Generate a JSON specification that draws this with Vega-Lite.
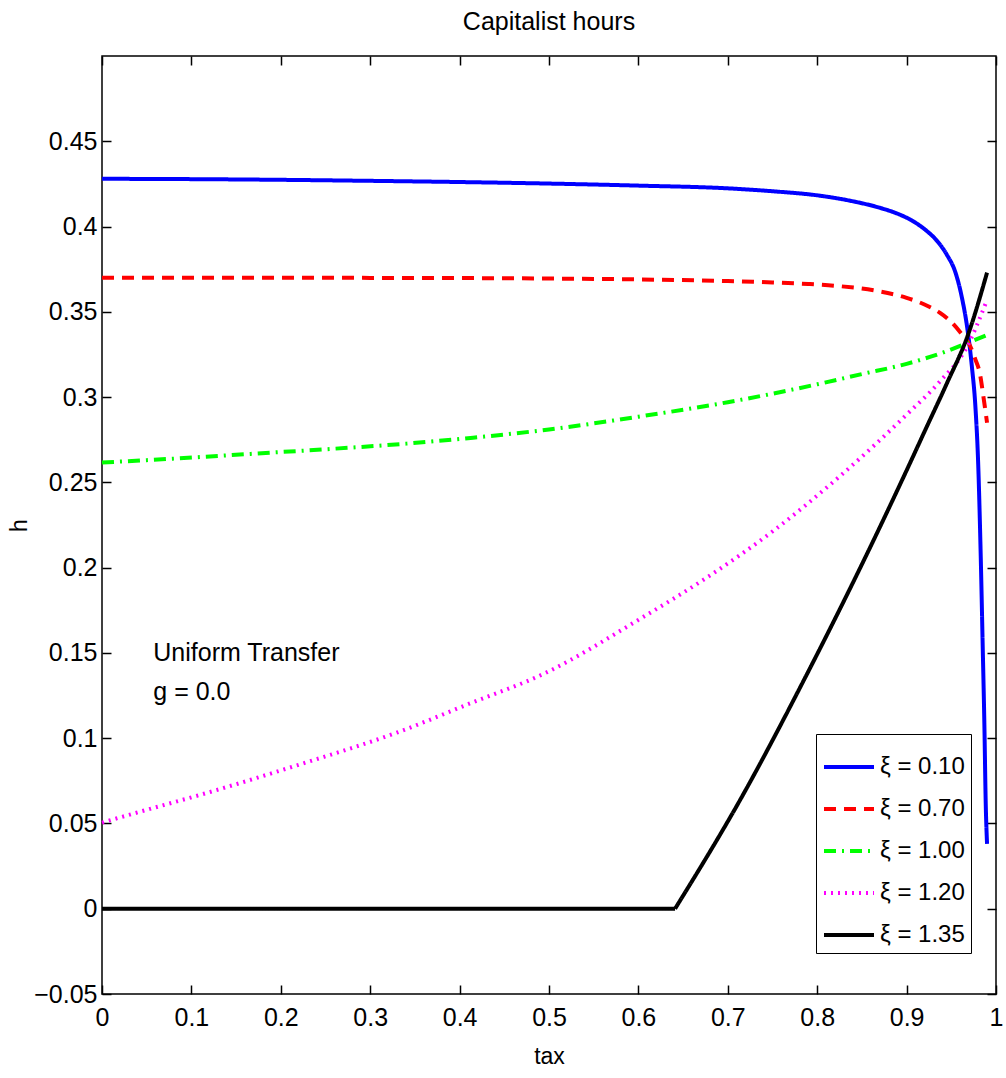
{
  "$schema": "https://vega.github.io/schema/vega-lite/v6.json",
  "width": 894,
  "height": 938,
  "autosize": "none",
  "padding": {"left": 102, "top": 56, "right": 10, "bottom": 84},
  "background": "white",
  "title": {"text": "Capitalist hours", "font": "Liberation Sans", "fontSize": 25, "fontWeight": "normal", "color": "black", "anchor": "middle", "baseline": "alphabetic", "offset": 0},
  "config": {
    "font": "Liberation Sans",
    "view": {"stroke": "black", "strokeWidth": 1.5},
    "axis": {
      "domain": false,
      "grid": false,
      "ticks": true,
      "offset": -9,
      "tickSize": 9,
      "tickColor": "#000000",
      "tickOpacity": 1,
      "tickWidth": 1.5,
      "zindex": 1,
      "labelFont": "Liberation Sans",
      "labelFontSize": 25,
      "labelColor": "black",
      "titleFont": "Liberation Sans",
      "titleFontSize": 23,
      "titleFontWeight": "normal",
      "titleColor": "black"
    }
  },
  "datasets": {
    "curves": [
      {"series": "ξ = 0.10", "part": "a", "tax": 0, "h": 0.428},
      {"series": "ξ = 0.10", "part": "a", "tax": 0.1, "h": 0.4278},
      {"series": "ξ = 0.10", "part": "a", "tax": 0.2, "h": 0.4274},
      {"series": "ξ = 0.10", "part": "a", "tax": 0.3, "h": 0.4268},
      {"series": "ξ = 0.10", "part": "a", "tax": 0.4, "h": 0.4261},
      {"series": "ξ = 0.10", "part": "a", "tax": 0.5, "h": 0.4252},
      {"series": "ξ = 0.10", "part": "a", "tax": 0.6, "h": 0.424},
      {"series": "ξ = 0.10", "part": "a", "tax": 0.7, "h": 0.4224},
      {"series": "ξ = 0.10", "part": "a", "tax": 0.75, "h": 0.4207},
      {"series": "ξ = 0.10", "part": "a", "tax": 0.8, "h": 0.4183},
      {"series": "ξ = 0.10", "part": "a", "tax": 0.84, "h": 0.4148},
      {"series": "ξ = 0.10", "part": "a", "tax": 0.87, "h": 0.411},
      {"series": "ξ = 0.10", "part": "a", "tax": 0.89, "h": 0.4075},
      {"series": "ξ = 0.10", "part": "a", "tax": 0.905, "h": 0.4038},
      {"series": "ξ = 0.10", "part": "a", "tax": 0.92, "h": 0.3985},
      {"series": "ξ = 0.10", "part": "a", "tax": 0.935, "h": 0.391},
      {"series": "ξ = 0.10", "part": "a", "tax": 0.945, "h": 0.3835},
      {"series": "ξ = 0.10", "part": "a", "tax": 0.955, "h": 0.3725},
      {"series": "ξ = 0.10", "part": "a", "tax": 0.962, "h": 0.358},
      {"series": "ξ = 0.10", "part": "a", "tax": 0.968, "h": 0.34},
      {"series": "ξ = 0.10", "part": "a", "tax": 0.973, "h": 0.318},
      {"series": "ξ = 0.10", "part": "a", "tax": 0.977, "h": 0.294},
      {"series": "ξ = 0.10", "part": "a", "tax": 0.98, "h": 0.262},
      {"series": "ξ = 0.10", "part": "a", "tax": 0.983, "h": 0.205},
      {"series": "ξ = 0.10", "part": "a", "tax": 0.985, "h": 0.157},
      {"series": "ξ = 0.10", "part": "a", "tax": 0.987, "h": 0.108},
      {"series": "ξ = 0.10", "part": "a", "tax": 0.9885, "h": 0.062},
      {"series": "ξ = 0.10", "part": "a", "tax": 0.99, "h": 0.038},

      {"series": "ξ = 0.70", "part": "a", "tax": 0, "h": 0.37},
      {"series": "ξ = 0.70", "part": "a", "tax": 0.1, "h": 0.37},
      {"series": "ξ = 0.70", "part": "a", "tax": 0.2, "h": 0.37},
      {"series": "ξ = 0.70", "part": "a", "tax": 0.3, "h": 0.3699},
      {"series": "ξ = 0.70", "part": "a", "tax": 0.4, "h": 0.3698},
      {"series": "ξ = 0.70", "part": "a", "tax": 0.5, "h": 0.3695},
      {"series": "ξ = 0.70", "part": "a", "tax": 0.6, "h": 0.369},
      {"series": "ξ = 0.70", "part": "a", "tax": 0.7, "h": 0.368},
      {"series": "ξ = 0.70", "part": "a", "tax": 0.75, "h": 0.3672},
      {"series": "ξ = 0.70", "part": "a", "tax": 0.79, "h": 0.3663},
      {"series": "ξ = 0.70", "part": "a", "tax": 0.826, "h": 0.365},
      {"series": "ξ = 0.70", "part": "a", "tax": 0.863, "h": 0.3626},
      {"series": "ξ = 0.70", "part": "a", "tax": 0.9, "h": 0.3582},
      {"series": "ξ = 0.70", "part": "a", "tax": 0.92, "h": 0.3543},
      {"series": "ξ = 0.70", "part": "a", "tax": 0.937, "h": 0.3495},
      {"series": "ξ = 0.70", "part": "a", "tax": 0.95, "h": 0.344},
      {"series": "ξ = 0.70", "part": "a", "tax": 0.96, "h": 0.338},
      {"series": "ξ = 0.70", "part": "a", "tax": 0.971, "h": 0.33},
      {"series": "ξ = 0.70", "part": "a", "tax": 0.977, "h": 0.322},
      {"series": "ξ = 0.70", "part": "a", "tax": 0.982, "h": 0.3137},
      {"series": "ξ = 0.70", "part": "a", "tax": 0.986, "h": 0.3},
      {"series": "ξ = 0.70", "part": "a", "tax": 0.99, "h": 0.285},

      {"series": "ξ = 1.00", "part": "a", "tax": 0, "h": 0.2616},
      {"series": "ξ = 1.00", "part": "a", "tax": 0.083, "h": 0.264},
      {"series": "ξ = 1.00", "part": "a", "tax": 0.166, "h": 0.2667},
      {"series": "ξ = 1.00", "part": "a", "tax": 0.25, "h": 0.2694},
      {"series": "ξ = 1.00", "part": "a", "tax": 0.333, "h": 0.2724},
      {"series": "ξ = 1.00", "part": "a", "tax": 0.415, "h": 0.2762},
      {"series": "ξ = 1.00", "part": "a", "tax": 0.5, "h": 0.281},
      {"series": "ξ = 1.00", "part": "a", "tax": 0.6, "h": 0.2885},
      {"series": "ξ = 1.00", "part": "a", "tax": 0.7, "h": 0.297},
      {"series": "ξ = 1.00", "part": "a", "tax": 0.75, "h": 0.302},
      {"series": "ξ = 1.00", "part": "a", "tax": 0.8, "h": 0.3075},
      {"series": "ξ = 1.00", "part": "a", "tax": 0.85, "h": 0.3135},
      {"series": "ξ = 1.00", "part": "a", "tax": 0.9, "h": 0.3195},
      {"series": "ξ = 1.00", "part": "a", "tax": 0.94, "h": 0.326},
      {"series": "ξ = 1.00", "part": "a", "tax": 0.967, "h": 0.3315},
      {"series": "ξ = 1.00", "part": "a", "tax": 0.99, "h": 0.3364},

      {"series": "ξ = 1.20", "part": "a", "tax": 0, "h": 0.0505},
      {"series": "ξ = 1.20", "part": "a", "tax": 0.05, "h": 0.058},
      {"series": "ξ = 1.20", "part": "a", "tax": 0.11, "h": 0.0668},
      {"series": "ξ = 1.20", "part": "a", "tax": 0.22, "h": 0.0844},
      {"series": "ξ = 1.20", "part": "a", "tax": 0.333, "h": 0.1039},
      {"series": "ξ = 1.20", "part": "a", "tax": 0.408, "h": 0.1196},
      {"series": "ξ = 1.20", "part": "a", "tax": 0.497, "h": 0.1385},
      {"series": "ξ = 1.20", "part": "a", "tax": 0.602, "h": 0.17},
      {"series": "ξ = 1.20", "part": "a", "tax": 0.676, "h": 0.194},
      {"series": "ξ = 1.20", "part": "a", "tax": 0.751, "h": 0.2216},
      {"series": "ξ = 1.20", "part": "a", "tax": 0.826, "h": 0.2539},
      {"series": "ξ = 1.20", "part": "a", "tax": 0.9, "h": 0.2897},
      {"series": "ξ = 1.20", "part": "a", "tax": 0.937, "h": 0.309},
      {"series": "ξ = 1.20", "part": "a", "tax": 0.967, "h": 0.329},
      {"series": "ξ = 1.20", "part": "a", "tax": 0.99, "h": 0.357},

      {"series": "ξ = 1.35", "part": "a", "tax": 0, "h": 0},
      {"series": "ξ = 1.35", "part": "a", "tax": 0.2, "h": 0},
      {"series": "ξ = 1.35", "part": "a", "tax": 0.4, "h": 0},
      {"series": "ξ = 1.35", "part": "a", "tax": 0.641, "h": 0},
      {"series": "ξ = 1.35", "part": "b", "tax": 0.641, "h": 0},
      {"series": "ξ = 1.35", "part": "b", "tax": 0.714, "h": 0.064},
      {"series": "ξ = 1.35", "part": "b", "tax": 0.788, "h": 0.137},
      {"series": "ξ = 1.35", "part": "b", "tax": 0.863, "h": 0.216},
      {"series": "ξ = 1.35", "part": "b", "tax": 0.9, "h": 0.257},
      {"series": "ξ = 1.35", "part": "b", "tax": 0.922, "h": 0.282},
      {"series": "ξ = 1.35", "part": "b", "tax": 0.945, "h": 0.308},
      {"series": "ξ = 1.35", "part": "b", "tax": 0.969, "h": 0.337},
      {"series": "ξ = 1.35", "part": "b", "tax": 0.99, "h": 0.373}
    ],
    "notes": [
      {"tax": 0.0574, "h": 0.1454, "label": "Uniform Transfer"},
      {"tax": 0.0574, "h": 0.1225, "label": "g = 0.0"}
    ]
  },
  "layer": [
    {
      "data": {"name": "curves"},
      "mark": {"type": "line", "interpolate": "monotone", "strokeCap": "butt", "strokeJoin": "round"},
      "encoding": {
        "x": {"field": "tax", "type": "quantitative", "scale": {"domain": [0, 1], "nice": false, "zero": false},
          "axis": {"orient": "bottom", "values": [0, 0.1, 0.2, 0.3, 0.4, 0.5, 0.6, 0.7, 0.8, 0.9, 1], "format": "~g", "labelPadding": 11, "labelFlush": false, "labelOverlap": false, "title": "tax", "titleX": 447, "titleY": 78, "titleBaseline": "alphabetic", "titleAlign": "center"}},
        "y": {"field": "h", "type": "quantitative", "scale": {"domain": [-0.05, 0.5], "nice": false, "zero": false},
          "axis": {"orient": "left", "values": [-0.05, 0, 0.05, 0.1, 0.15, 0.2, 0.25, 0.3, 0.35, 0.4, 0.45], "format": "~g", "labelPadding": 5, "labelFlush": false, "labelOverlap": false, "title": "h", "titleX": -92, "titleY": 469, "titleAngle": -90, "titleAlign": "center", "titleBaseline": "middle"}},
        "detail": {"field": "part", "type": "nominal"},
        "color": {"field": "series", "type": "nominal",
          "scale": {"domain": ["ξ = 0.10", "ξ = 0.70", "ξ = 1.00", "ξ = 1.20", "ξ = 1.35"], "range": ["#0000ff", "#ff0000", "#00ff00", "#ff00ff", "#000000"]},
          "legend": {"title": null, "orient": "none", "legendX": 714, "legendY": 678, "strokeColor": "black", "fillColor": "white", "padding": 6, "symbolType": "stroke", "symbolSize": 2500, "labelFontSize": 24, "labelColor": "black", "labelFont": "Liberation Sans", "rowPadding": 3, "labelOffset": 4, "labelLimit": 300}},
        "strokeDash": {"field": "series", "type": "nominal",
          "scale": {"domain": ["ξ = 0.10", "ξ = 0.70", "ξ = 1.00", "ξ = 1.20", "ξ = 1.35"], "range": [[1, 0], [12, 8], [12, 6, 2, 6], [2, 5], [1, 0]]},
          "legend": {"title": null, "orient": "none", "legendX": 714, "legendY": 678, "strokeColor": "black", "fillColor": "white", "padding": 6, "symbolType": "stroke", "symbolSize": 2500, "labelFontSize": 24, "labelColor": "black", "labelFont": "Liberation Sans", "rowPadding": 3, "labelOffset": 4, "labelLimit": 300}},
        "strokeWidth": {"field": "series", "type": "nominal",
          "scale": {"domain": ["ξ = 0.10", "ξ = 0.70", "ξ = 1.00", "ξ = 1.20", "ξ = 1.35"], "range": [4, 4, 4, 2.5, 4]},
          "legend": {"title": null, "orient": "none", "legendX": 714, "legendY": 678, "strokeColor": "black", "fillColor": "white", "padding": 6, "symbolType": "stroke", "symbolSize": 2500, "labelFontSize": 24, "labelColor": "black", "labelFont": "Liberation Sans", "rowPadding": 3, "labelOffset": 4, "labelLimit": 300}}
      }
    },
    {
      "data": {"name": "notes"},
      "mark": {"type": "text", "align": "left", "baseline": "alphabetic", "fontSize": 25, "font": "Liberation Sans", "color": "black"},
      "encoding": {
        "x": {"field": "tax", "type": "quantitative", "axis": null},
        "y": {"field": "h", "type": "quantitative", "axis": null},
        "text": {"field": "label", "type": "nominal"}
      }
    },
    {
      "data": {"name": "notes"},
      "mark": {"type": "point", "opacity": 0},
      "encoding": {
        "x": {"field": "tax", "type": "quantitative", "axis": {"orient": "top", "values": [0, 0.1, 0.2, 0.3, 0.4, 0.5, 0.6, 0.7, 0.8, 0.9, 1], "labels": false, "title": null, "minExtent": 0, "maxExtent": 0}},
        "y": {"field": "h", "type": "quantitative", "axis": {"orient": "right", "values": [-0.05, 0, 0.05, 0.1, 0.15, 0.2, 0.25, 0.3, 0.35, 0.4, 0.45], "labels": false, "title": null, "minExtent": 0, "maxExtent": 0}}
      }
    }
  ],
  "resolve": {"axis": {"x": "independent", "y": "independent"}}
}
